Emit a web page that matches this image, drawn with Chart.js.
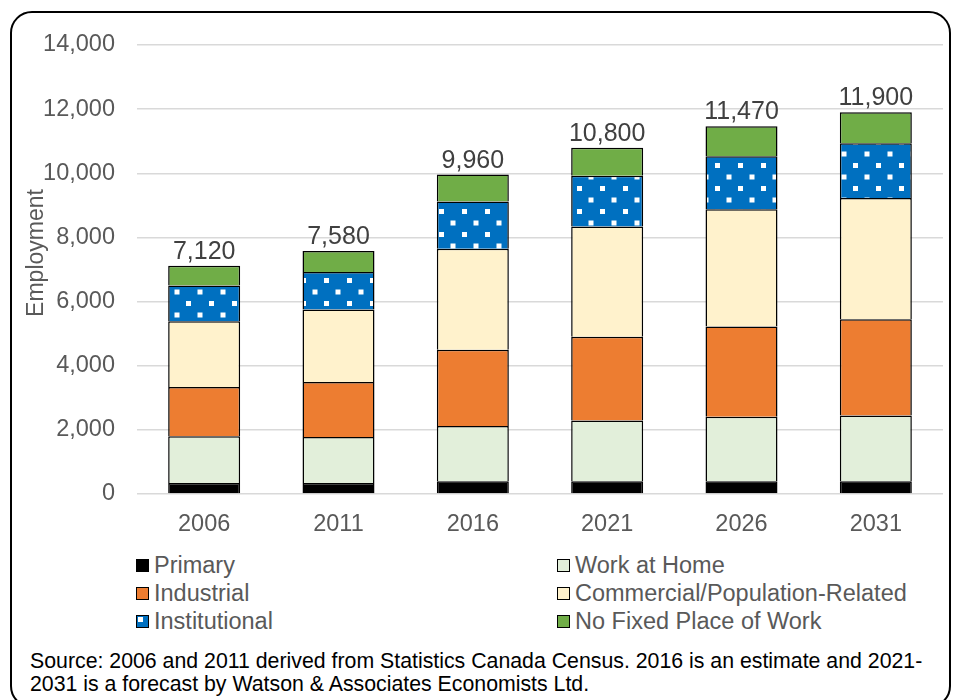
<!DOCTYPE html>
<html>
<head>
<meta charset="utf-8">
<script src="https://cdn.jsdelivr.net/npm/chart.js@4.4.1/dist/chart.umd.min.js"></script>
<style>
body{margin:0;width:953px;height:700px;overflow:hidden;background:#fff;position:relative;font-family:Arial,"Liberation Sans",sans-serif}
#frame{position:absolute;left:10px;top:11px;width:941px;height:697px;border:2px solid #000;border-radius:22px;box-sizing:border-box}
#wrap{position:absolute;left:0;top:0;width:953px;height:540px}
.item{position:absolute;font-size:23.5px;color:#595959;line-height:28px;white-space:nowrap}
.box{position:absolute;left:0;top:8px;width:13px;height:13px;border:1.5px solid #000;box-sizing:border-box}
.item span.t{padding-left:18px}
#source{position:absolute;left:30px;top:650px;font-size:21.3px;line-height:23px;color:#000;white-space:nowrap}
</style>
</head>
<body>
<div id="frame"></div>
<div id="wrap"><canvas id="chart"></canvas></div>
<div id="legend"></div>
<div id="source">Source: 2006 and 2011 derived from Statistics Canada Census. 2016 is an estimate and 2021-<br>2031 is a forecast by Watson &amp; Associates Economists Ltd.</div>
<script>
const years = ['2006', '2011', '2016', '2021', '2026', '2031'];
const primary = [340, 340, 400, 400, 400, 400];
const workAtHome = [1460, 1440, 1720, 1890, 2010, 2050];
const industrial = [1540, 1710, 2380, 2610, 2810, 3000];
const commercial = [2050, 2260, 3150, 3440, 3660, 3780];
const institutional = [1110, 1170, 1470, 1580, 1650, 1710];
const noFixedPlace = [620, 660, 840, 880, 940, 960];
const totals = [7120, 7580, 9960, 10800, 11470, 11900];
const yTicks = [0, 2000, 4000, 6000, 8000, 10000, 12000, 14000];
const yTitleText = 'Employment';

// dotted fill for Institutional
const tile = document.createElement('canvas');
tile.width = 23; tile.height = 23;
const tc = tile.getContext('2d');
tc.fillStyle = '#0070C0';
tc.fillRect(0, 0, 23, 23);
tc.fillStyle = '#fff';
tc.fillRect(2, 2, 5, 5);
tc.fillRect(13.5, 13.5, 5, 5);
const dots = tc.createPattern(tile, 'repeat');

const series = [
  {label: 'Primary', data: primary, color: '#000000'},
  {label: 'Work at Home', data: workAtHome, color: '#E2EFDA'},
  {label: 'Industrial', data: industrial, color: '#ED7D31'},
  {label: 'Commercial/Population-Related', data: commercial, color: '#FFF2CC'},
  {label: 'Institutional', data: institutional, color: '#0070C0', fill: dots},
  {label: 'No Fixed Place of Work', data: noFixedPlace, color: '#70AD47'}
];

const font = 'Arial, "Liberation Sans", sans-serif';

const totalLabels = {
  id: 'totalLabels',
  afterDatasetsDraw(chart) {
    const ctx = chart.ctx;
    const last = chart.getDatasetMeta(chart.data.datasets.length - 1);
    ctx.save();
    ctx.font = '25px ' + font;
    ctx.fillStyle = '#404040';
    ctx.textAlign = 'center';
    ctx.textBaseline = 'alphabetic';
    last.data.forEach((bar, i) => {
      ctx.fillText(totals[i].toLocaleString('en-US'), bar.x, bar.y - 7);
    });
    ctx.restore();
  }
};

// y title sits a little above the middle of the axis in the original
const yTitle = {
  id: 'yTitle',
  afterDraw(chart) {
    const ctx = chart.ctx;
    ctx.save();
    ctx.translate(43, 253);
    ctx.rotate(-Math.PI / 2);
    ctx.font = '23px ' + font;
    ctx.fillStyle = '#595959';
    ctx.textAlign = 'center';
    ctx.textBaseline = 'alphabetic';
    ctx.fillText(yTitleText, 0, 0);
    ctx.restore();
  }
};

const ctx = document.getElementById('chart').getContext('2d');
const myChart = new Chart(ctx, {
  type: 'bar',
  data: {
    labels: years,
    datasets: series.map(s => ({
      label: s.label,
      data: s.data,
      backgroundColor: s.fill || s.color,
      borderColor: '#000',
      borderWidth: 1.5,
      categoryPercentage: 1,
      barPercentage: 0.536
    }))
  },
  options: {
    responsive: true,
    maintainAspectRatio: false,
    animation: false,
    layout: {padding: {left: 10, right: 10, top: 45, bottom: 0}},
    plugins: {
      legend: {display: false},
      tooltip: {enabled: false}
    },
    scales: {
      x: {
        stacked: true,
        grid: {display: false},
        border: {display: false},
        ticks: {color: '#595959', font: {size: 23.5, family: font}, padding: 8},
        afterFit: s => { s.height = 46; }
      },
      y: {
        stacked: true,
        min: 0,
        max: 14000,
        afterBuildTicks: s => { s.ticks = yTicks.map(v => ({value: v})); },
        grid: {color: '#D9D9D9', lineWidth: 1.5, drawTicks: false},
        border: {display: false},
        ticks: {
          color: '#595959',
          font: {size: 23.5, family: font},
          padding: 22,
          callback: v => v.toLocaleString('en-US')
        },
        afterFit: s => { s.width = 127; }
      }
    }
  },
  plugins: [totalLabels, yTitle]
});

// two-column legend, same order as the reference
const legend = document.getElementById('legend');
const slots = [[136, 551], [557, 551], [136, 579], [557, 579], [136, 607], [557, 607]];
series.forEach((s, i) => {
  const item = document.createElement('div');
  item.className = 'item';
  item.style.left = slots[i][0] + 'px';
  item.style.top = slots[i][1] + 'px';
  const box = document.createElement('span');
  box.className = 'box';
  if (s.fill) {
    box.style.background = 'linear-gradient(#fff,#fff) 1px 1px / 5px 5px no-repeat, ' + s.color;
  } else {
    box.style.background = s.color;
  }
  const t = document.createElement('span');
  t.className = 't';
  t.textContent = s.label;
  item.appendChild(box);
  item.appendChild(t);
  legend.appendChild(item);
});
</script>
</body>
</html>
